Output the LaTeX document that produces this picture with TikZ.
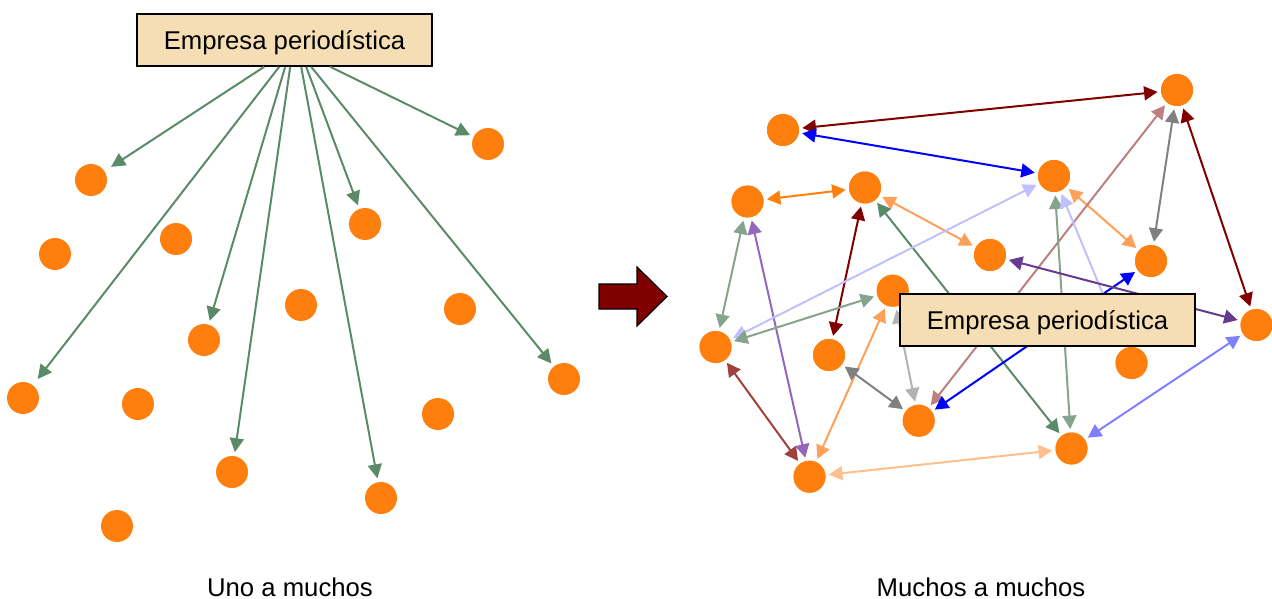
\documentclass[tikz,border=0pt]{standalone}
\usepackage{fontspec}
\setmainfont{Liberation Sans}
\usetikzlibrary{arrows.meta}
\definecolor{dotc}{HTML}{FF7F0E}
\definecolor{wheatc}{HTML}{F5DEB3}
\definecolor{dgreen}{HTML}{5A8A68}
\definecolor{ggreen}{HTML}{86A38C}
\definecolor{mred}{HTML}{800000}
\definecolor{mblue}{HTML}{0000FF}
\definecolor{orng}{HTML}{FF7F0E}
\definecolor{lorng}{HTML}{FFA05A}
\definecolor{gry}{HTML}{808080}
\definecolor{lgry}{HTML}{B3B3B3}
\definecolor{purp}{HTML}{9467BD}
\definecolor{dpurp}{HTML}{663A8E}
\definecolor{brred}{HTML}{A0413F}
\definecolor{lav}{HTML}{C0C0FF}
\definecolor{rosy}{HTML}{BD7F7F}
\definecolor{peri}{HTML}{8080FF}
\definecolor{peach}{HTML}{FFBF8C}
\begin{document}
\begin{tikzpicture}[x=1pt,y=-1pt,
  dot/.style={circle,fill=dotc,minimum size=32pt,inner sep=0pt,outer sep=0pt},
  firm/.style={draw=black,line width=1.6pt,fill=wheatc,minimum width=295pt,minimum height=52pt,
    inner sep=0pt,text height=18.4pt,text depth=0pt,font=\fontsize{25.7pt}{30pt}\selectfont},
  one/.style={dgreen,line width=2pt,-{Triangle[length=14pt,width=14pt]},shorten >=4pt},
  both/.style={line width=2pt,{Triangle[length=13.5pt,width=14pt]}-{Triangle[length=13.5pt,width=14pt]},
    shorten >=3.5pt,shorten <=3.5pt},
  caption/.style={anchor=base,inner sep=0pt,font=\fontsize{25.7pt}{30pt}\selectfont}]
\useasboundingbox (0,0) rectangle (1272,599);

% ---------- left: one to many ----------
\node[firm] (lbox) at (284.5,40) {Empresa periodística};
\foreach \n/\x/\y in {l1/91/180,l2/55/254,l3/176/239,l4/365/224,l5/488/144,l6/301/305,
  l7/460/309,l8/204/340,l9/23/398,l10/138/404,l11/438/414,l12/564/379,l13/232/472,
  l14/381/498,l15/117/526}
  \node[dot] (\n) at (\x,\y) {};
\coordinate (s1) at ([xshift=128pt]lbox.south west);
\coordinate (s2) at ([xshift=143pt]lbox.south west);
\coordinate (s3) at ([xshift=149pt]lbox.south west);
\coordinate (s4) at ([xshift=154pt]lbox.south west);
\coordinate (s5) at ([xshift=165pt]lbox.south west);
\coordinate (s6) at ([xshift=170pt]lbox.south west);
\coordinate (s7) at ([xshift=175pt]lbox.south west);
\coordinate (s8) at ([xshift=194pt]lbox.south west);
\draw[one,shorten >=8pt] (s1) -- (l1);
\draw[one,shorten >=8pt] (s2) -- (l9);
\draw[one] (s3) -- (l8);
\draw[one] (s4) -- (l13);
\draw[one] (s5) -- (l14);
\draw[one] (s6) -- (l4);
\draw[one] (s7) -- (l12);
\draw[one] (s8) -- (l5);
\node[caption] (cap1) at (290,596) {Uno a muchos};

% ---------- big arrow ----------
\draw[fill=mred,draw=black,line width=1.2pt,line join=miter]
  (599,284) -- (637,284) -- (637,267) -- (667,296.5) -- (637,326) -- (637,309) -- (599,309) -- cycle;

% ---------- right: many to many ----------
\foreach \n/\x/\y in {A/783/130,B/1177/90,C/1054/176,D/747.5/201.5,E/865/187.5,F/990/255,
  G/1151/261,H/892.7/290.7,I/1256.5/325,J/715.5/347,K/829/355,L/1131.5/363,M/918.7/420.7,
  N/1071.5/448.5,O/809.5/476.7}
  \coordinate (p\n) at (\x,\y);
\foreach \n in {A,B,C,D,E,F,G,H,I,J,K,L,M,N,O}
  \node[dot] (\n) at (p\n) {};

\draw[both,mred]  (A) -- (B);
\draw[both,mblue] (A) -- (C);
\draw[both,orng]  (D) -- (E);
\draw[both,lorng] (E) -- (F);
\draw[both,lorng] (C) -- (G);
\draw[both,gry]   (B) -- (G);
\draw[both,mred]  (B) -- (I);
\draw[both,mred]  (K) -- (E);
\draw[both,dgreen] (E) -- (N);
\draw[both,ggreen] (D) -- (J);
\draw[both,purp]  (D) -- (O);
\draw[both,brred] (J) -- (O);
\draw[both,lav]   (J) -- (C);
\draw[both,ggreen] (J) -- (H);
\draw[both,lorng] (H) -- (O);
\draw[both,lgry]  (H) -- (M);
\draw[both,gry]   (K) -- (M);
\draw[both,rosy]  (M) -- (B);
\draw[both,mblue] (M) -- (G);
\draw[both,ggreen] (C) -- (N);
\draw[both,lav]   (C) -- (L);
\draw[both,dpurp] (F) -- (I);
\draw[both,peri]  (N) -- (I);
\draw[both,peach] (O) -- (N);

\foreach \n in {A,B,C,D,E,F,G,H,I,J,K,L,M,N,O}
  \node[dot] at (p\n) {};

\node[firm] (rbox) at (1047.5,320) {Empresa periodística};
\node[caption] (cap2) at (981,596) {Muchos a muchos};
\end{tikzpicture}
\end{document}
